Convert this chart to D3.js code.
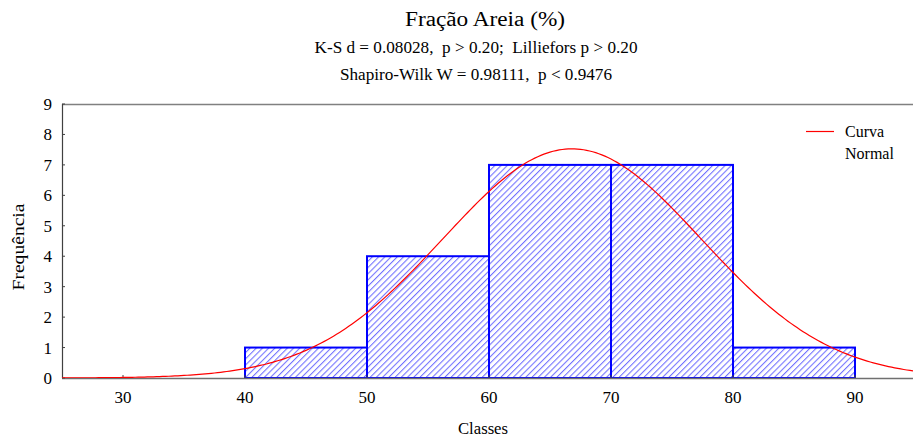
<!DOCTYPE html>
<html><head><meta charset="utf-8">
<script src="https://cdn.jsdelivr.net/npm/d3@7"></script>
<style>body{margin:0;background:#fff}svg{display:block}</style>
</head><body><div id="c"></div>
<script>
const binStarts = [40, 50, 60, 70, 80];
const binWidth = 10;
const frequencies = [1, 4, 7, 7, 1];
const xTicks = [30, 40, 50, 60, 70, 80, 90];
const yTicks = [0, 1, 2, 3, 4, 5, 6, 7, 8, 9];
const normalMean = 66.8;
const normalSd = 10.6;
const titleLines = ["Fração Areia (%)", "K-S d = 0.08028,  p > 0.20;  Lilliefors p > 0.20", "Shapiro-Wilk W = 0.98111,  p < 0.9476"];

const W = 913, H = 439;
const m = {l: 62, r: 0, t: 104, b: 61};
const FONT = "Liberation Serif";
const svg = d3.select("#c").append("svg").attr("width", W).attr("height", H)
  .attr("font-family", FONT);
const x = d3.scaleLinear().domain([25, 95]).range([m.l, 916]);
const y = d3.scaleLinear().domain([0, 9]).range([H - m.b, m.t]);

const defs = svg.append("defs");
const pat = defs.append("pattern").attr("id", "hatch").attr("patternUnits", "userSpaceOnUse")
  .attr("width", 4.4).attr("height", 6).attr("patternTransform", "rotate(45)");
pat.append("line").attr("x1", 0.6).attr("y1", 0).attr("x2", 0.6).attr("y2", 6)
  .attr("stroke", "#5555ff").attr("stroke-width", 0.9);
defs.append("clipPath").attr("id", "clip").append("rect")
  .attr("x", m.l).attr("y", m.t).attr("width", W - m.l).attr("height", y(0) - m.t);

// frame
svg.append("line").attr("x1", m.l).attr("x2", W).attr("y1", m.t + 0.5).attr("y2", m.t + 0.5).attr("stroke", "#808080").attr("stroke-width", 1.5);
svg.append("line").attr("x1", m.l + 0.5).attr("x2", m.l + 0.5).attr("y1", m.t).attr("y2", y(0)).attr("stroke", "#404040").attr("stroke-width", 1.2);

// bars
const bars = svg.append("g");
binStarts.forEach((s, i) => {
  bars.append("rect").attr("x", x(s)).attr("y", y(frequencies[i]))
    .attr("width", x(s + binWidth) - x(s)).attr("height", y(0) - y(frequencies[i]))
    .attr("fill", "url(#hatch)").attr("stroke", "#0000ff").attr("stroke-width", 2);
});

// bottom axis line
svg.append("line").attr("x1", m.l).attr("x2", W).attr("y1", y(0) + 0.5).attr("y2", y(0) + 0.5).attr("stroke", "#707070").attr("stroke-width", 1.5);

const txt = (xx, yy, s, size, anchor, len) => {
  const t = svg.append("text").attr("x", xx).attr("y", yy)
    .attr("text-anchor", anchor || "middle").attr("font-size", size).attr("fill", "#000")
    .attr("xml:space", "preserve").style("white-space", "pre").text(s);
  if (len) t.attr("textLength", len).attr("lengthAdjust", "spacingAndGlyphs");
  return t;
};

// ticks
yTicks.forEach(t => {
  svg.append("line").attr("x1", m.l).attr("x2", m.l + 3).attr("y1", y(t)).attr("y2", y(t)).attr("stroke", "#404040");
  txt(52, y(t) + 6, t, 17, "end");
});
xTicks.forEach(t => {
  svg.append("line").attr("x1", x(t)).attr("x2", x(t)).attr("y1", y(0)).attr("y2", y(0) - 3).attr("stroke", "#404040");
  txt(x(t), 403, t, 17);
});

// normal curve
const total = d3.sum(frequencies);
const pts = d3.range(25, 95.01, 0.25).map(v => [v, total * binWidth / (normalSd * Math.sqrt(2 * Math.PI)) * Math.exp(-0.5 * ((v - normalMean) / normalSd) ** 2)]);
svg.append("path").attr("clip-path", "url(#clip)").datum(pts)
  .attr("d", d3.line().x(d => x(d[0])).y(d => y(d[1])))
  .attr("fill", "none").attr("stroke", "#ff0000").attr("stroke-width", 1.2);

// titles
txt(485, 26, titleLines[0], 20, "middle", 160);
txt(476, 53, titleLines[1], 16, "middle", 323);
txt(476, 80, titleLines[2], 16, "middle", 272);

// axis labels
txt(483, 434, "Classes", 16, "middle", 50);
svg.append("text").attr("transform", "translate(24,247) rotate(-90)").attr("text-anchor", "middle")
  .attr("font-size", 16).attr("textLength", 87).attr("lengthAdjust", "spacingAndGlyphs").text("Frequência");

// legend
svg.append("line").attr("x1", 806).attr("x2", 834).attr("y1", 131.5).attr("y2", 131.5).attr("stroke", "#ff0000").attr("stroke-width", 1.2);
txt(845, 137, "Curva", 16, "start");
txt(845, 159, "Normal", 16, "start");
</script></body></html>
